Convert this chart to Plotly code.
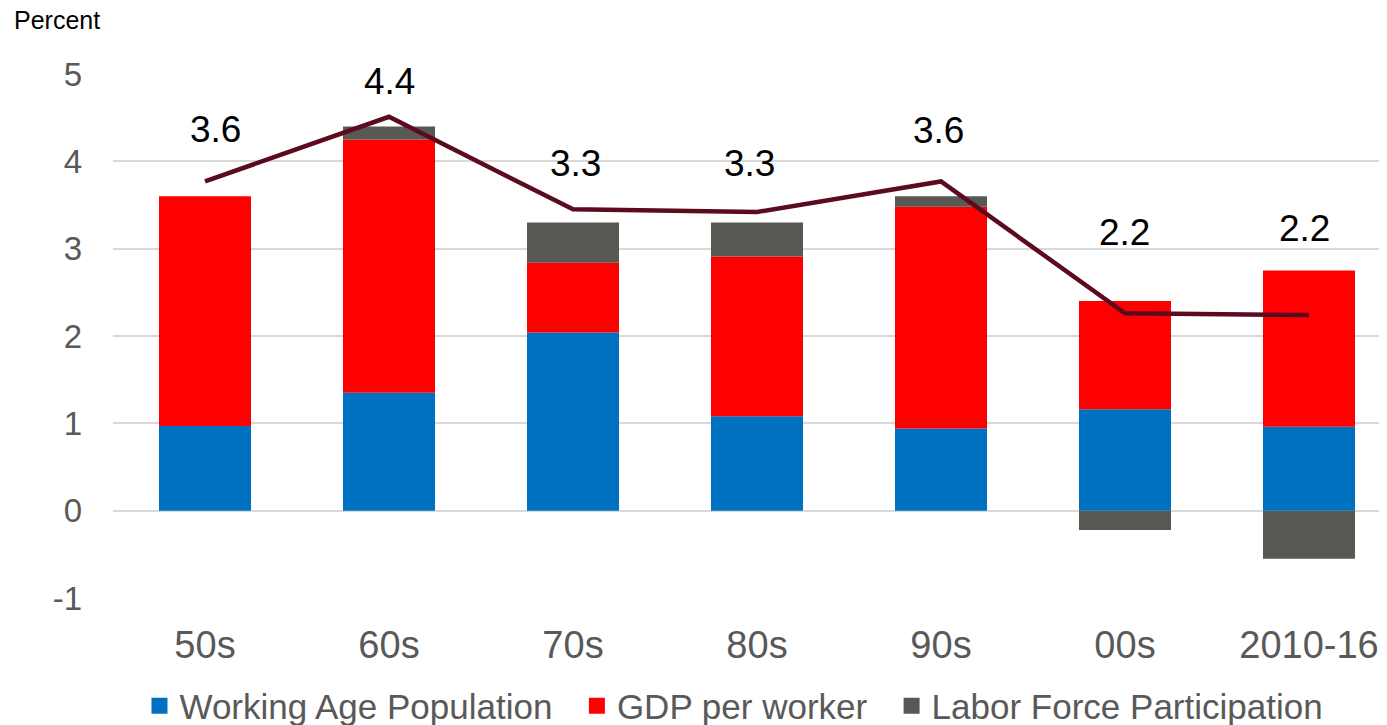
import plotly.graph_objects as go

categories = ["50s", "60s", "70s", "80s", "90s", "00s", "2010-16"]
working_age_pop = [0.97, 1.35, 2.04, 1.08, 0.94, 1.16, 0.96]
gdp_per_worker = [2.63, 2.90, 0.80, 1.83, 2.54, 1.24, 1.79]
labor_force_part = [0.0, 0.15, 0.46, 0.39, 0.12, -0.22, -0.55]
line_values = [3.77, 4.51, 3.45, 3.42, 3.77, 2.26, 2.24]
total_labels = ["3.6", "4.4", "3.3", "3.3", "3.6", "2.2", "2.2"]
label_heights = [4.36, 4.91, 3.98, 3.98, 4.35, 3.18, 3.23]
label_xshift = [10, 0, 2, -8, -3, -1, -5]
y_ticks = [-1, 0, 1, 2, 3, 4, 5]
y_tick_text = ["-1", "0", "1", "2", "3", "4", "5"]

FONT = "Liberation Sans, Arial, sans-serif"
GRAY_TXT = "#595959"
NB = "\u00a0"

# page has an 8px body margin; figure offset accordingly
W, H = 1379, 717
L, T, B = 105, 66, 127
plot_w = W - L
plot_h = H - T - B

fig = go.Figure()
series = [
    ("Working Age Population", working_age_pop, "#0070C0", NB * 2),
    ("GDP per worker", gdp_per_worker, "#FF0000", NB * 2),
    ("Labor Force Participation", labor_force_part, "#585954", ""),
]
for name, vals, color, _ in series:
    fig.add_trace(go.Bar(x=categories, y=vals, name=name,
                         marker=dict(color=color, line=dict(width=0)),
                         showlegend=False))

fig.add_trace(go.Scatter(x=categories, y=line_values, mode="lines",
                         line=dict(color="#5C0B1F", width=4.5),
                         showlegend=False, hoverinfo="skip"))

# legend entries with larger square swatches
for name, vals, color, pad in series:
    fig.add_trace(go.Scatter(x=[None], y=[None], mode="markers", name=name + pad,
                             marker=dict(symbol="square", size=18, color=color),
                             showlegend=True))

for cat, txt, h, dx in zip(categories, total_labels, label_heights, label_xshift):
    fig.add_annotation(x=cat, y=h, text=txt, showarrow=False, xshift=dx,
                       font=dict(size=37, color="black", family=FONT))

fig.add_annotation(xref="paper", yref="paper", x=(4 - L) / plot_w, y=1 + 54 / plot_h,
                   xanchor="left", yanchor="middle", text="Percent",
                   showarrow=False, font=dict(size=25, color="black", family=FONT))

fig.update_layout(
    width=W, height=H,
    margin=dict(l=L, r=0, t=T, b=B, pad=0, autoexpand=False),
    barmode="relative", bargap=0.5,
    plot_bgcolor="white", paper_bgcolor="white",
    font=dict(family=FONT, color=GRAY_TXT),
    legend=dict(orientation="h", x=(726 - L) / plot_w, xanchor="center",
                y=-108 / plot_h, yanchor="middle",
                font=dict(size=35, color=GRAY_TXT, family=FONT),
                itemclick=False, itemsizing="trace"),
    xaxis=dict(range=[-0.5, -0.5 + plot_w / 184], showgrid=False, showline=False,
               tickfont=dict(size=38, color=GRAY_TXT), ticks="",
               ticklabelstandoff=21, automargin=False),
    yaxis=dict(range=[-1, 5], tickvals=y_ticks, ticktext=y_tick_text,
               showgrid=True, gridcolor="#D9D9D9",
               gridwidth=1.5, zeroline=True, zerolinecolor="#D9D9D9",
               zerolinewidth=1.5, showline=False,
               tickfont=dict(size=33, color=GRAY_TXT), ticks="",
               ticklabelstandoff=30, automargin=False),
)

fig.write_html("out.html")
